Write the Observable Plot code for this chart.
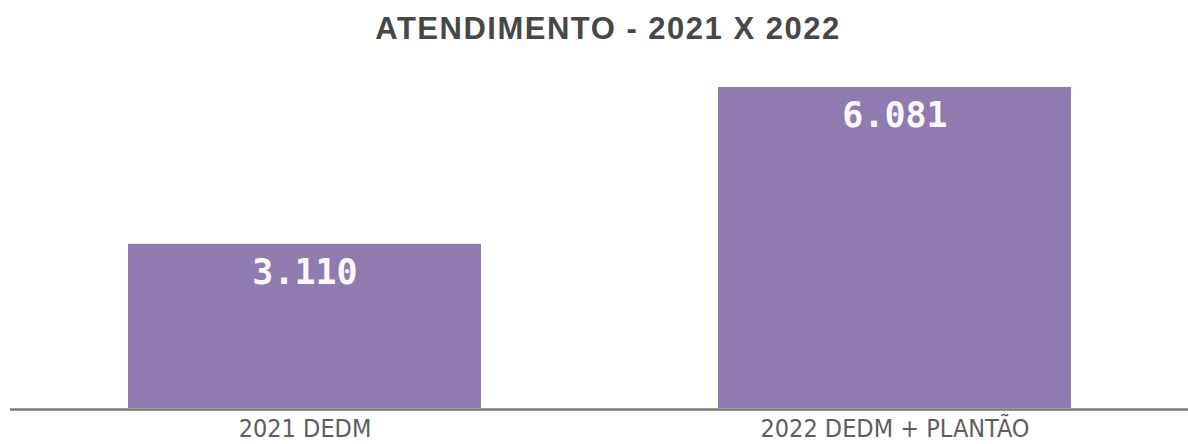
<!DOCTYPE html>
<html><head><meta charset="utf-8">
<script src="https://cdn.jsdelivr.net/npm/d3@7"></script>
<script src="https://cdn.jsdelivr.net/npm/@observablehq/plot@0.6"></script>
<style>
body{margin:0;background:#fff;}
#title{height:60px;line-height:58px;text-align:center;padding-left:28px;box-sizing:border-box;font-family:"Liberation Sans",Arial,sans-serif;font-weight:bold;font-size:31px;letter-spacing:1.5px;color:#474747;}
</style></head>
<body>
<div id="title">ATENDIMENTO - 2021 X 2022</div>
<div id="chart"></div>
<script>
const categories = ["2021 DEDM", "2022 DEDM + PLANTÃO"];
const values = [3110, 6081];
const valueLabels = ["3.110", "6.081"];
const data = categories.map((c, i) => ({category: c, value: values[i], label: valueLabels[i]}));

const chart = Plot.plot({
  width: 1188,
  height: 384,
  marginLeft: 10,
  marginRight: 0,
  marginTop: 27,
  marginBottom: 36,
  style: {background: "#fff"},
  x: {domain: categories, paddingInner: 0.402, paddingOuter: 0.1985, label: null},
  y: {domain: [0, 6081], axis: null},
  marks: [
    Plot.ruleY([0], {stroke: "#7a7a7a", strokeWidth: 2.5, dy: 1}),
    Plot.barY(data, {x: "category", y: "value", fill: "#8f7bb0"}),
    Plot.text(data, {x: "category", y: "value", text: "label", dy: 28, fill: "#fbf8ff",
      fontSize: 35, fontWeight: "bold", fontFamily: "DejaVu Sans Mono"}),
    Plot.axisX({tickSize: 0, tickPadding: 11, fontSize: 25, fontFamily: "DejaVu Sans Condensed, Liberation Sans Narrow, sans-serif", color: "#5e5e5e", label: null})
  ]
});
document.getElementById("chart").append(chart);
</script>
</body></html>
